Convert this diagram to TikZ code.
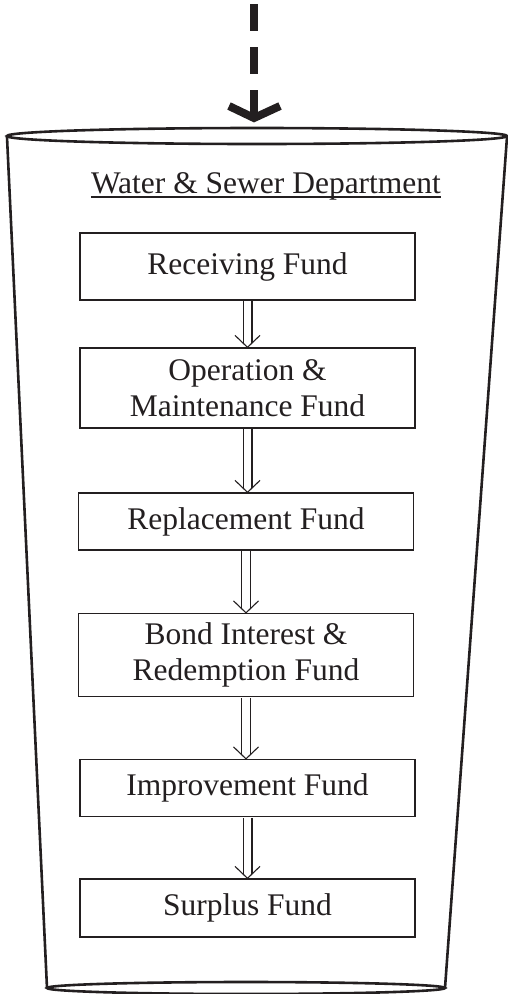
\documentclass[tikz,border=0pt]{standalone}
\usepackage{fontspec}
\setmainfont{Liberation Serif}

\begin{document}
\begin{tikzpicture}[x=1pt, y=-1pt,
  fundbox/.style={draw=ink, line width=1.3pt, rectangle, minimum width=335pt, align=center, text=ink, inner sep=0pt, font=\fontsize{31.5}{36}\selectfont},
  rimline/.style={draw=ink, line width=2.6pt},
  flow/.style={draw=ink, line width=1.1pt, double=white, double distance=7.8pt, shorten <=0.7pt},
  vhead/.style={draw=ink, line width=1.1pt}]

\definecolor{ink}{RGB}{35,31,32}
\useasboundingbox (0,0) rectangle (508,994);

% Draw the bucket
\draw[rimline] (257,136) ellipse [x radius=250, y radius=8]; % rim
\draw[rimline] (7,137) -- (47,988); % left side
\draw[rimline] (507,137) -- (445,988); % right side
\draw[rimline] (246,988) ellipse [x radius=199, y radius=6]; % bottom

% Draw the incoming flow
\coordinate (src) at (254,4);
\coordinate (inlet) at (254,118);
\draw[ink, line width=8pt, dash pattern=on 27pt off 16pt] (src) -- (inlet);
\draw[ink, line width=8pt] ([xshift=-25pt,yshift=12pt]inlet) -- (inlet) -- ([xshift=26pt,yshift=12pt]inlet);

% Draw the title
\node[anchor=base, inner sep=0pt, text=ink, font=\fontsize{31.5}{36}\selectfont] (title) at (266,193) {Water \& Sewer Department};
\draw[ink, line width=1.2pt] ([yshift=-4pt]title.base west) -- ([yshift=-4pt]title.base east);

% Draw the funds
\node[fundbox, minimum height=67pt] (rec) at (247.5,266.5) {Receiving Fund};
\node[fundbox, minimum height=80pt] (om) at (247.5,388) {Operation \&\\Maintenance Fund};
\node[fundbox, minimum height=57pt] (rep) at (246,521.5) {Replacement Fund};
\node[fundbox, minimum height=83pt] (bond) at (246,655) {Bond Interest \&\\Redemption Fund};
\node[fundbox, minimum height=57pt] (imp) at (247.5,788) {Improvement Fund};
\node[fundbox, minimum height=58pt] (sur) at (247.5,908) {Surplus Fund};

% Draw the flows between funds
\draw[flow] (rec.south) -- ([yshift=4pt]rec.south |- om.north); % rec to om
\draw[vhead] ([xshift=-12.5pt,yshift=12pt]rec.south |- om.north) -- (rec.south |- om.north) -- ([xshift=12.5pt,yshift=12pt]rec.south |- om.north);
\draw[flow] (om.south) -- ([yshift=4pt]om.south |- rep.north); % om to rep
\draw[vhead] ([xshift=-12.5pt,yshift=12pt]om.south |- rep.north) -- (om.south |- rep.north) -- ([xshift=12.5pt,yshift=12pt]om.south |- rep.north);
\draw[flow] (rep.south) -- ([yshift=4pt]rep.south |- bond.north); % rep to bond
\draw[vhead] ([xshift=-12.5pt,yshift=12pt]rep.south |- bond.north) -- (rep.south |- bond.north) -- ([xshift=12.5pt,yshift=12pt]rep.south |- bond.north);
\draw[flow] (bond.south) -- ([yshift=4pt]bond.south |- imp.north); % bond to imp
\draw[vhead] ([xshift=-12.5pt,yshift=12pt]bond.south |- imp.north) -- (bond.south |- imp.north) -- ([xshift=12.5pt,yshift=12pt]bond.south |- imp.north);
\draw[flow] (imp.south) -- ([yshift=4pt]imp.south |- sur.north); % imp to sur
\draw[vhead] ([xshift=-12.5pt,yshift=12pt]imp.south |- sur.north) -- (imp.south |- sur.north) -- ([xshift=12.5pt,yshift=12pt]imp.south |- sur.north);

\end{tikzpicture}
\end{document}
